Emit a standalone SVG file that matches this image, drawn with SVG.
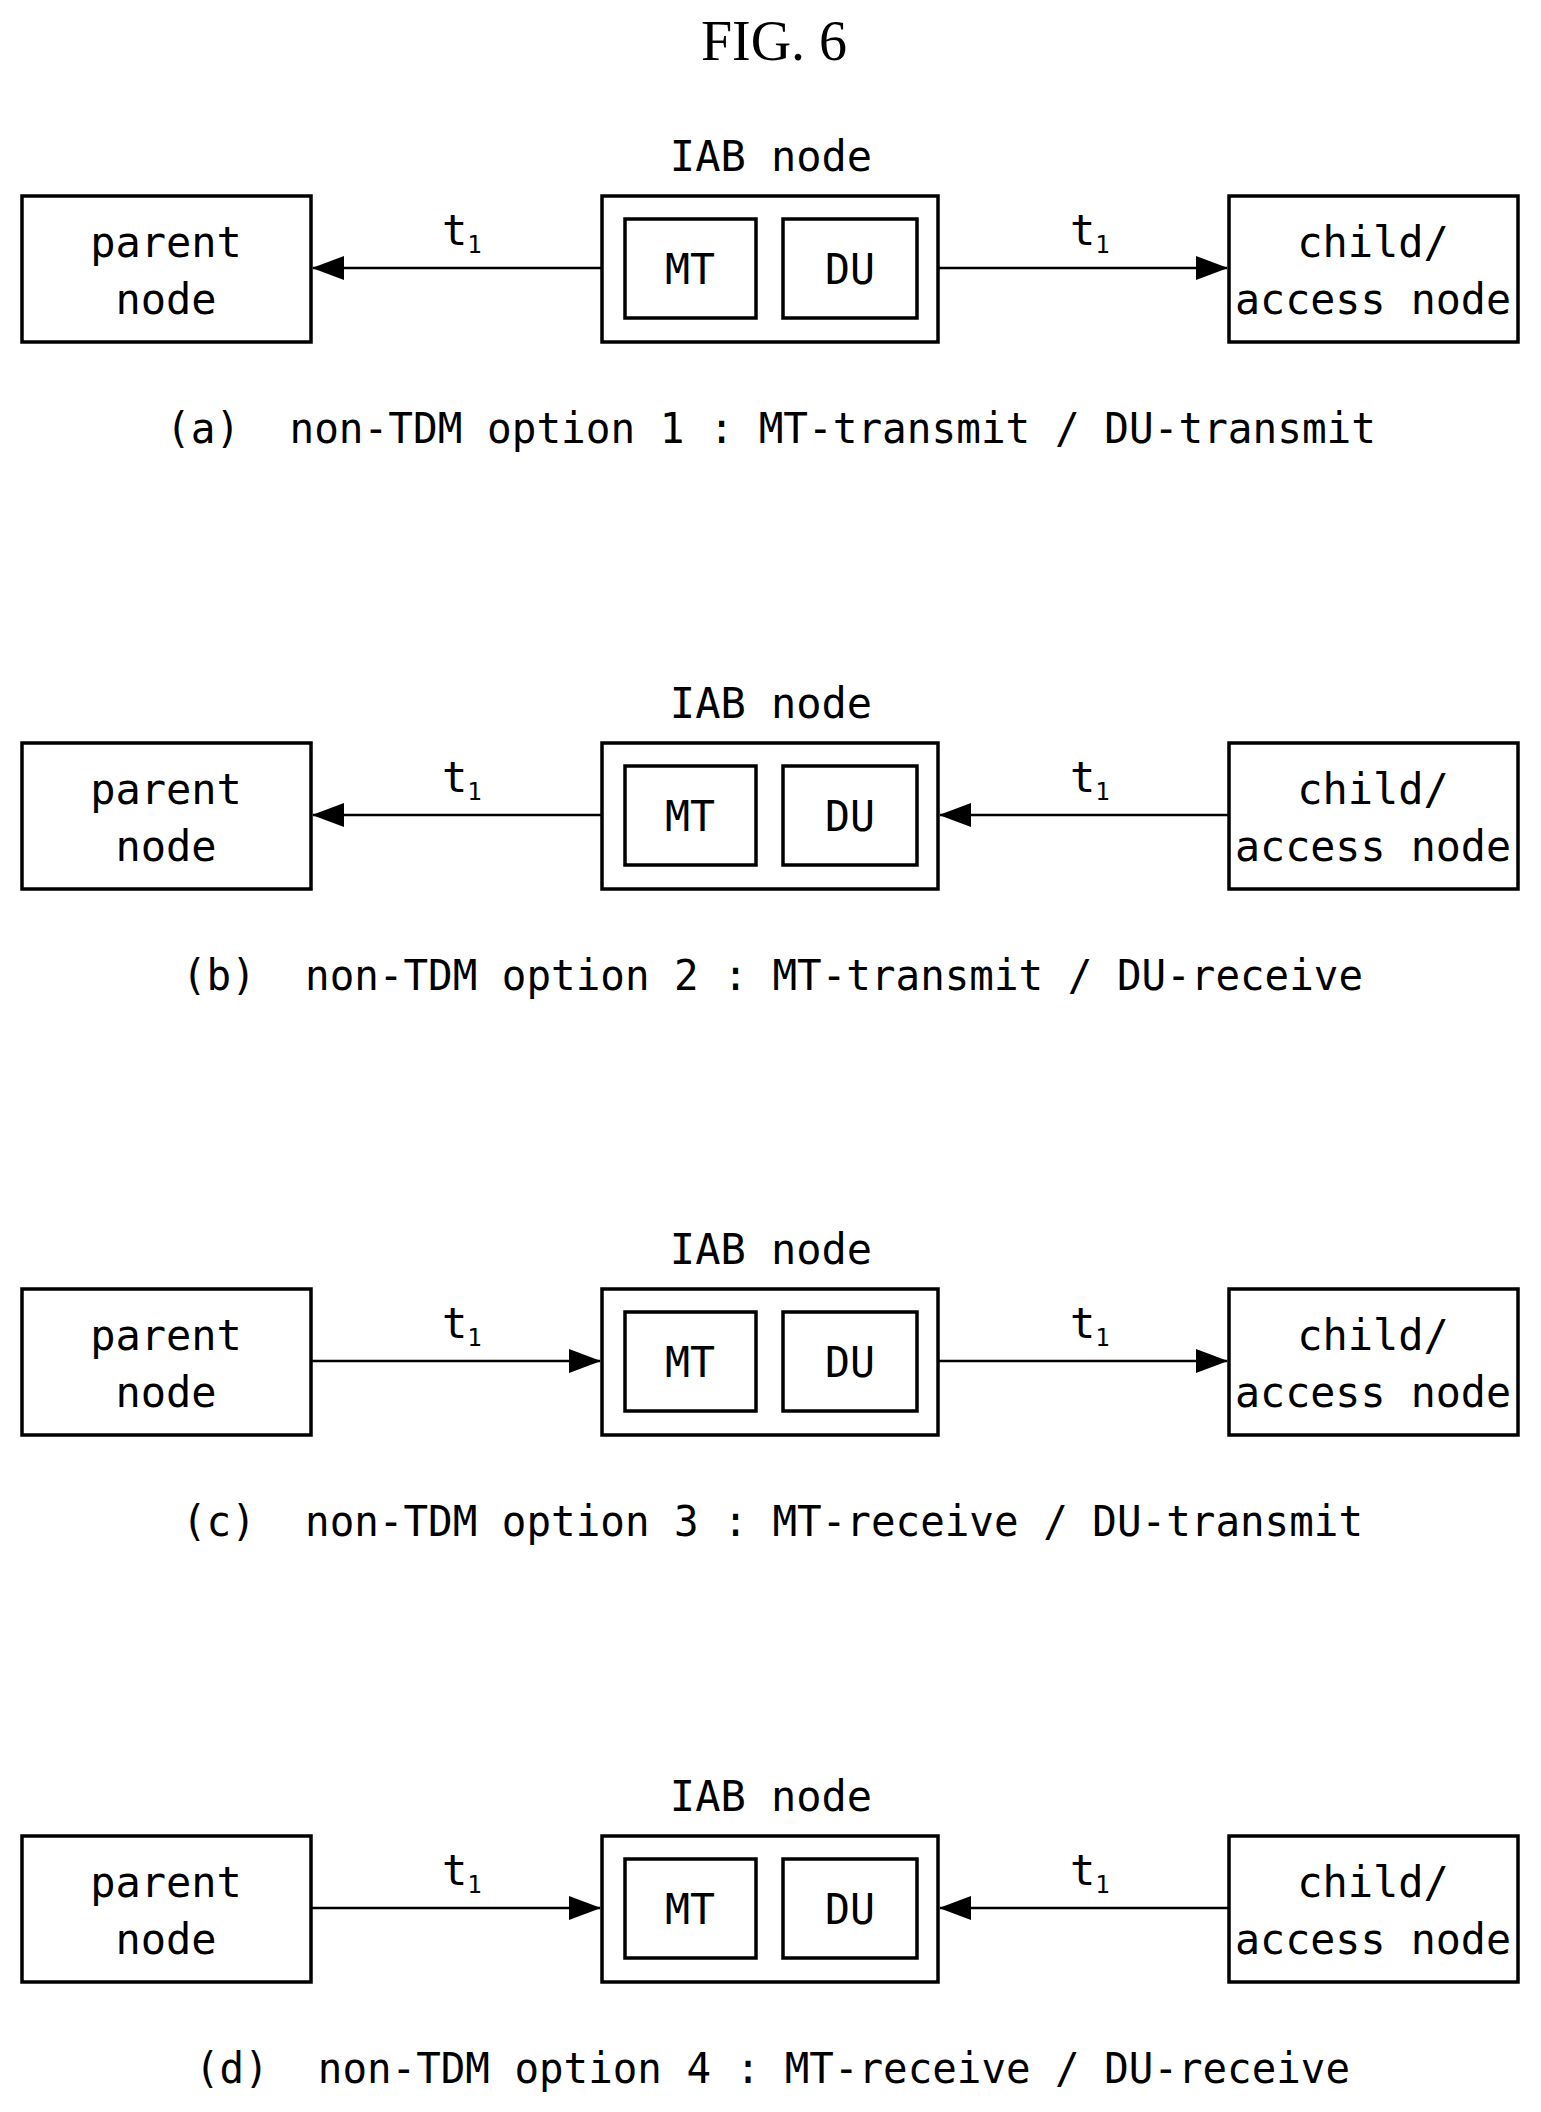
<svg xmlns="http://www.w3.org/2000/svg" width="1541" height="2112" viewBox="0 0 1541 2112">
<style>
.b{fill:none;stroke:#000;stroke-width:3.5}
.t{font-family:"DejaVu Sans Mono",monospace;font-size:42px;fill:#000}
.c{text-anchor:middle}
.l{stroke:#000;stroke-width:2.5;fill:none}
</style>
<defs>
<marker id="ah" markerWidth="32" markerHeight="24" refX="31" refY="12" orient="auto" markerUnits="userSpaceOnUse"><path d="M0,0 L32,12 L0,24 Z" fill="#000"/></marker>
<g id="panel">
<rect class="b" x="22" y="196" width="289" height="146"/>
<text class="t c" x="166" y="257">parent</text>
<text class="t c" x="166" y="314">node</text>
<text class="t c" x="771" y="171">IAB node</text>
<rect class="b" x="602" y="196" width="336" height="146"/>
<rect class="b" x="625" y="219" width="131" height="99"/>
<rect class="b" x="783" y="219" width="134" height="99"/>
<text class="t c" x="690" y="284" textLength="50" lengthAdjust="spacingAndGlyphs">MT</text>
<text class="t c" x="850" y="284" textLength="50" lengthAdjust="spacingAndGlyphs">DU</text>
<rect class="b" x="1229" y="196" width="289" height="146"/>
<text class="t c" x="1373" y="257">child/</text>
<text class="t c" x="1373" y="314" textLength="276" lengthAdjust="spacingAndGlyphs">access node</text>
<text class="t" x="442" y="245">t<tspan font-size="24" dy="8">1</tspan></text>
<text class="t" x="1070" y="245">t<tspan font-size="24" dy="8">1</tspan></text>
</g>
</defs>
<text x="774" y="60" font-family="Liberation Serif,serif" font-size="56" text-anchor="middle">FIG. 6</text>
<g id="panelA"><use href="#panel"/>
<text class="t" x="166" y="443" textLength="1210" lengthAdjust="spacingAndGlyphs" xml:space="preserve">(a)  non-TDM option 1 : MT-transmit / DU-transmit</text></g>
<g id="panelB" transform="translate(0,547)"><use href="#panel"/>
<text class="t" x="182" y="443" textLength="1181" lengthAdjust="spacingAndGlyphs" xml:space="preserve">(b)  non-TDM option 2 : MT-transmit / DU-receive</text></g>
<g id="panelC" transform="translate(0,1093)"><use href="#panel"/>
<text class="t" x="182" y="443" textLength="1181" lengthAdjust="spacingAndGlyphs" xml:space="preserve">(c)  non-TDM option 3 : MT-receive / DU-transmit</text></g>
<g id="panelD" transform="translate(0,1640)"><use href="#panel"/>
<text class="t" x="195" y="443" textLength="1155" lengthAdjust="spacingAndGlyphs" xml:space="preserve">(d)  non-TDM option 4 : MT-receive / DU-receive</text></g>
<g id="connectors">
<line class="l" x1="602" y1="268" x2="313" y2="268" marker-end="url(#ah)"/>
<line class="l" x1="938" y1="268" x2="1227" y2="268" marker-end="url(#ah)"/>
<line class="l" x1="602" y1="815" x2="313" y2="815" marker-end="url(#ah)"/>
<line class="l" x1="1229" y1="815" x2="940" y2="815" marker-end="url(#ah)"/>
<line class="l" x1="311" y1="1361" x2="600" y2="1361" marker-end="url(#ah)"/>
<line class="l" x1="938" y1="1361" x2="1227" y2="1361" marker-end="url(#ah)"/>
<line class="l" x1="311" y1="1908" x2="600" y2="1908" marker-end="url(#ah)"/>
<line class="l" x1="1229" y1="1908" x2="940" y2="1908" marker-end="url(#ah)"/>
</g>
</svg>
